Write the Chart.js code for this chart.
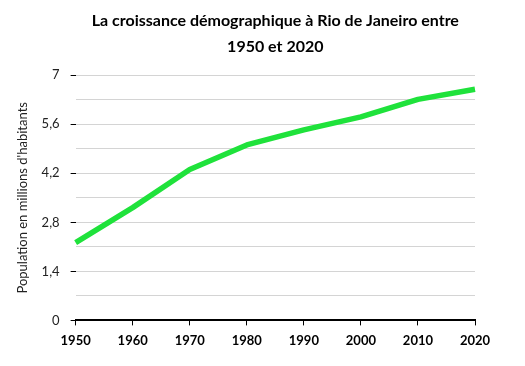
<!DOCTYPE html>
<html>
<head>
<meta charset="utf-8">
<script src="https://cdn.jsdelivr.net/npm/chart.js@4"></script>
<style>
	html, body { margin: 0; padding: 0; background: #fff; }
	#wrap { width: 525px; height: 366px; }
</style>
</head>
<body>
<div id="wrap"><canvas id="chartRio"></canvas></div>
<script>
// Données
var annees = ["1950", "1960", "1970", "1980", "1990", "2000", "2010", "2020"];
var population = [2.22, 3.22, 4.31, 5.01, 5.44, 5.81, 6.31, 6.6];
var titre = ["La croissance démographique à Rio de Janeiro entre", "1950 et 2020"];
var titreAxeY = "Population en millions d'habitants";
var yMin = 0, yMax = 7, yPas = 0.7;

function formatTick(value, index) {
	// une étiquette sur deux seulement
	if (index % 2 !== 0) return "";
	var v = Math.round(value * 10) / 10;
	return String(v).replace(".", ",");
}

var ctx = document.getElementById("chartRio");
var chartRio = new Chart(ctx, {
	type: 'line',
	data: {
		labels: annees,
		datasets: [{
			label: "Population",
			data: population,
			borderColor: "#1fe23b",
			backgroundColor: "#1fe23b",
			borderWidth: 5.5,
			borderCapStyle: 'butt',
			borderJoinStyle: 'round',
			pointRadius: 0,
			fill: false,
			tension: 0
		}]
	},
	options: {
		responsive: true,
		maintainAspectRatio: false,
		animation: false,
		layout: { padding: { left: 15, right: 50, top: 2, bottom: 9 } },
		plugins: {
			legend: { display: false },
			tooltip: { enabled: false },
			title: {
				display: true,
				text: titre,
				fullSize: false,
				color: "#000",
				font: { family: "Lato", size: 16, weight: 'bold', lineHeight: 1.6 },
				padding: { top: 6, bottom: 16 }
			}
		},
		scales: {
			x: {
				offset: false,
				border: { display: true, color: "#000", width: 2 },
				grid: { drawOnChartArea: false, drawTicks: true, color: "#000", tickLength: 5, lineWidth: 1 },
				ticks: {
					color: "#000",
					padding: 8,
					maxRotation: 0,
					font: { family: "Lato", size: 13, weight: 'bold' }
				}
			},
			y: {
				min: yMin,
				max: yMax,
				border: { display: false },
				grid: {
					color: "#d4d4d4",
					lineWidth: 1,
					drawTicks: true,
					tickLength: 5,
					tickColor: function(c) { return c.index % 2 === 0 ? "#000" : "rgba(0,0,0,0)"; }
				},
				ticks: {
					stepSize: yPas,
					color: "#222",
					padding: 11,
					font: { family: "Lato", size: 13 },
					callback: formatTick
				},
				title: {
					display: true,
					text: titreAxeY,
					color: "#222",
					font: { family: "Lato", size: 13 },
					padding: { top: 0, bottom: 0 }
				}
			}
		}
	}
});
</script>
</body>
</html>
